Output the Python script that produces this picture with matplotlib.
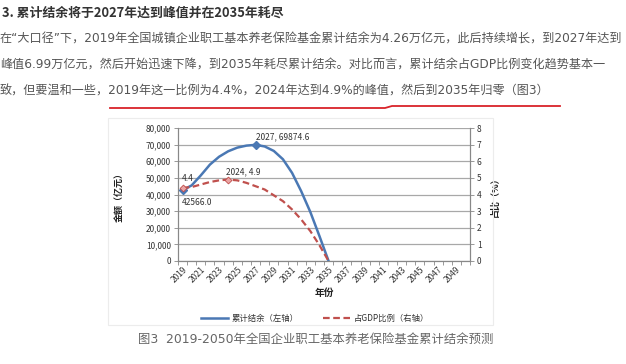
import matplotlib
matplotlib.use('Agg')
import matplotlib.pyplot as plt
from matplotlib.lines import Line2D
from matplotlib.ticker import FuncFormatter, MultipleLocator

plt.rcParams['font.family'] = ['Noto Sans CJK SC', 'DejaVu Sans']
latin_first = ['DejaVu Sans', 'Noto Sans CJK SC']

# 数据
years = list(range(2019, 2051))
balance_years = list(range(2019, 2036))
balance = [42566, 45500, 51500, 58000, 62700, 66000, 68200, 69400, 69874.6,
           68900, 66200, 61200, 53000, 42000, 29500, 15000, 0]
gdp_ratio = [4.4, 4.45, 4.6, 4.75, 4.85, 4.9, 4.85, 4.7, 4.5,
             4.3, 3.95, 3.6, 3.1, 2.5, 1.8, 0.95, 0]
tick_years = list(range(2019, 2050, 2))

title = '3. 累计结余将于2027年达到峰值并在2035年耗尽'
lines = ['在“大口径”下，2019年全国城镇企业职工基本养老保险基金累计结余为4.26万亿元，此后持续增长，到2027年达到',
         '峰值6.99万亿元，然后开始迅速下降，到2035年耗尽累计结余。对比而言，累计结余占GDP比例变化趋势基本一',
         '致，但要温和一些，2019年这一比例为4.4%，2024年达到4.9%的峰值，然后到2035年归零（图3）']
caption = '图3  2019-2050年全国企业职工基本养老保险基金累计结余预测'

W, H = 626, 364
fig = plt.figure(figsize=(W / 100, H / 100), dpi=100)
fig.patch.set_facecolor('white')


def px(x, y):
    return x / W, 1 - y / H


# 文字部分
fig.text(*px(2, 13), title, fontsize=9.3, fontweight='bold', color='#333333', va='center')
for i, s in enumerate(lines):
    fig.text(*px(0, 39 + i * 26), s, fontsize=8.7, color='#555555', va='center',
             family=latin_first)
fig.add_artist(Line2D([110 / W, 385 / W, 392 / W, 560 / W],
                      [1 - 108 / H, 1 - 108 / H, 1 - 106 / H, 1 - 106 / H],
                      color='#d9232a', lw=1.3))

# 图表外框
frame = plt.Rectangle(px(108, 325), 385 / W, 207 / H, transform=fig.transFigure,
                      fill=False, ec='#ececec', lw=0.8)
fig.add_artist(frame)

ax = fig.add_axes([178 / W, 1 - 261 / H, 292 / W, 133 / H])
ax2 = ax.twinx()

xb = [years.index(y) for y in balance_years]
blue = '#4a78b4'
red = '#c0504d'

ax.plot(xb, balance, color=blue, lw=1.8, zorder=3, solid_joinstyle='round')
ax2.plot(xb, gdp_ratio, color=red, lw=1.6, ls=(0, (3, 1.6)), zorder=3)

# 标记点和数据标签
i27 = balance_years.index(2027)
i24 = balance_years.index(2024)
ax.plot([xb[0], xb[i27]], [balance[0], balance[i27]], ls='none', marker='D',
        ms=4.5, color=blue, zorder=4)
ax2.plot([xb[0], xb[i24]], [gdp_ratio[0], gdp_ratio[i24]], ls='none', marker='D',
         ms=3.5, mfc='#eaa4a4', mec=red, mew=0.6, zorder=4)

fs = 6
ax.annotate('2027, %.1f' % balance[i27], (xb[i27], balance[i27]), xytext=(0, 8),
            textcoords='offset pixels', fontsize=fs, va='center', ha='left', color='#333333')
ax.annotate('%.1f' % balance[0], (xb[0], balance[0]), xytext=(-1, -12),
            textcoords='offset pixels', fontsize=fs, va='center', ha='left', color='#333333')
ax2.annotate('2024, %.1f' % gdp_ratio[i24], (xb[i24], gdp_ratio[i24]), xytext=(-2, 8),
             textcoords='offset pixels', fontsize=fs, va='center', ha='left', color='#333333')
ax2.annotate('%.1f' % gdp_ratio[0], (xb[0], gdp_ratio[0]), xytext=(-1, 9),
             textcoords='offset pixels', fontsize=fs, va='center', ha='left', color='#333333')

ax.set_xlim(-0.5, len(years) - 0.5)
ax.set_ylim(0, 80000)
ax2.set_ylim(0, 8)
ax.yaxis.set_major_locator(MultipleLocator(10000))
ax2.yaxis.set_major_locator(MultipleLocator(1))
ax.yaxis.set_major_formatter(FuncFormatter(lambda v, p: format(int(v), ',')))
ax.grid(axis='y', color='#a8a8a8', lw=0.9)
ax.set_axisbelow(True)

ax.set_xticks([years.index(y) for y in tick_years])
ax.set_xticklabels([str(y) for y in tick_years], rotation=45, ha='right',
                   rotation_mode='anchor', fontsize=6, color='#333333')
ax.set_xticks([i - 0.5 for i in range(len(years) + 1)], minor=True)
ax.tick_params(axis='x', which='major', length=0, pad=3)
ax.tick_params(axis='x', which='minor', length=3, color='#888888', width=0.6)
ax.tick_params(axis='y', length=3, color='#888888', width=0.6, labelsize=6, labelcolor='#333333', pad=2)
ax2.tick_params(axis='y', length=3, color='#888888', width=0.6, labelsize=6, labelcolor='#333333', pad=2)

for a in (ax, ax2):
    a.spines['top'].set_visible(False)
    for s in ('left', 'right', 'bottom'):
        a.spines[s].set_color('#888888')
        a.spines[s].set_linewidth(0.8)
ax.patch.set_alpha(0)

ax.set_ylabel('金额（亿元）', fontsize=6.5, fontweight='bold', labelpad=16, color='#222222')
ax2.set_ylabel('占比（%）', fontsize=6.5, fontweight='bold', labelpad=6, color='#222222', rotation=90)
fig.text(*px(324, 293), '年份', fontsize=7, fontweight='bold', ha='center', va='center', color='#222222')

handles = [Line2D([], [], color=blue, lw=1.8),
           Line2D([], [], color=red, lw=1.6, ls=(0, (3, 1.6)))]
fig.legend(handles, ['累计结余（左轴）', '占GDP比例（右轴）'], loc='center',
           bbox_to_anchor=px(315, 318), ncol=2, frameon=False, fontsize=6,
           handlelength=3.2, columnspacing=3, handletextpad=0.4, labelcolor='#333333')

fig.text(*px(138, 339), caption, fontsize=8.9, color='#666666', va='center',
         family=latin_first)

fig.savefig('out.png', dpi=100, facecolor='white')
